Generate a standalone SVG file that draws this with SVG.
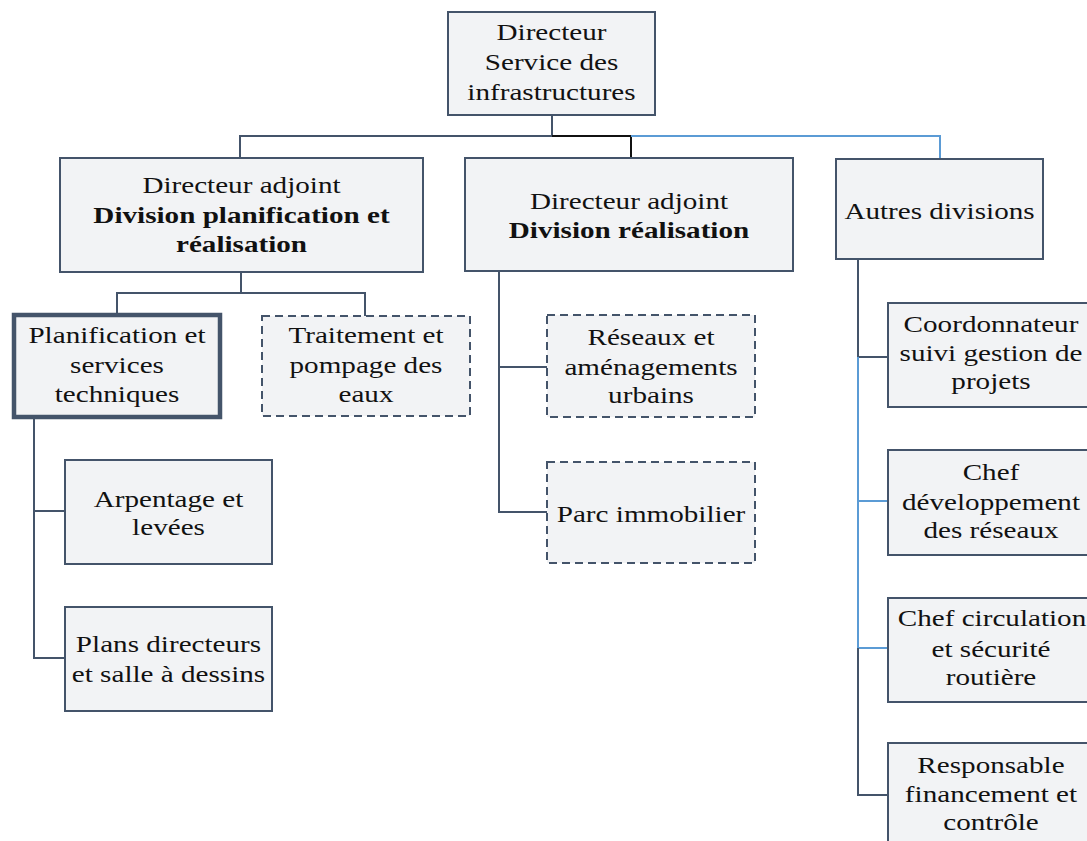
<svg xmlns="http://www.w3.org/2000/svg" width="1087" height="841" viewBox="0 0 1087 841">
<style>
.box{fill:#f2f3f5;stroke:#44546a;stroke-width:2}
.thick{stroke-width:4.5}
.dash{stroke-dasharray:8 5}
.c{fill:none;stroke:#44546a;stroke-width:2}
.k{fill:none;stroke:#111111;stroke-width:2}
.b{fill:none;stroke:#5b9bd5;stroke-width:2}
text{font-family:"Liberation Serif","Times New Roman",serif;font-size:23.5px;fill:#111;text-anchor:middle}
.bd{font-weight:bold}
</style>
<rect width="1087" height="841" fill="#ffffff"/>
<g id="connectors">
<path class="c" d="M552 115V136H240V158"/>
<path class="k" d="M552 136H631V158"/>
<path class="b" d="M631 136H940V158"/>
<path class="c" d="M241 272V293H117V314"/>
<path class="c" d="M241 293H365V316"/>
<path class="c" d="M34 419V658H65"/>
<path class="c" d="M34 511H65"/>
<path class="c" d="M499 271V512H547"/>
<path class="c" d="M499 367H547"/>
<path class="c" d="M858 259V357H888"/>
<path class="b" d="M858 357V648H888"/>
<path class="b" d="M858 501H888"/>
<path class="c" d="M858 648V795H888"/>
</g>
<g id="n_top">
<rect class="box" x="448" y="12" width="207" height="103"/>
<text transform="translate(551.5,40) scale(1.24,1)">Directeur</text>
<text transform="translate(551.5,70) scale(1.24,1)">Service des</text>
<text transform="translate(551.5,100) scale(1.24,1)">infrastructures</text>
</g>
<g id="n_dpr">
<rect class="box" x="60" y="158" width="363" height="114"/>
<text transform="translate(241.5,193) scale(1.24,1)">Directeur adjoint</text>
<text class="bd" transform="translate(241.5,223) scale(1.24,1)">Division planification et</text>
<text class="bd" transform="translate(241.5,252) scale(1.24,1)">réalisation</text>
</g>
<g id="n_dr">
<rect class="box" x="465" y="158" width="328" height="113"/>
<text transform="translate(629,209) scale(1.24,1)">Directeur adjoint</text>
<text class="bd" transform="translate(629,238) scale(1.24,1)">Division réalisation</text>
</g>
<g id="n_autres">
<rect class="box" x="836" y="159" width="207" height="100"/>
<text transform="translate(939.5,219) scale(1.24,1)">Autres divisions</text>
</g>
<g id="n_plan">
<rect class="box thick" x="14" y="315" width="206" height="102"/>
<text transform="translate(117,343) scale(1.24,1)">Planification et</text>
<text transform="translate(117,373) scale(1.24,1)">services</text>
<text transform="translate(117,402) scale(1.24,1)">techniques</text>
</g>
<g id="n_trait">
<rect class="box dash" x="262" y="316" width="208" height="100"/>
<text transform="translate(366,343) scale(1.24,1)">Traitement et</text>
<text transform="translate(366,373) scale(1.24,1)">pompage des</text>
<text transform="translate(366,402) scale(1.24,1)">eaux</text>
</g>
<g id="n_arp">
<rect class="box" x="65" y="460" width="207" height="104"/>
<text transform="translate(168.5,507) scale(1.24,1)">Arpentage et</text>
<text transform="translate(168.5,535) scale(1.24,1)">levées</text>
</g>
<g id="n_plans">
<rect class="box" x="65" y="607" width="207" height="104"/>
<text transform="translate(168.5,652) scale(1.24,1)">Plans directeurs</text>
<text transform="translate(168.5,682) scale(1.24,1)">et salle à dessins</text>
</g>
<g id="n_res">
<rect class="box dash" x="547" y="315" width="208" height="102"/>
<text transform="translate(651,345) scale(1.24,1)">Réseaux et</text>
<text transform="translate(651,375) scale(1.24,1)">aménagements</text>
<text transform="translate(651,403) scale(1.24,1)">urbains</text>
</g>
<g id="n_parc">
<rect class="box dash" x="547" y="462" width="208" height="101"/>
<text transform="translate(651,522) scale(1.24,1)">Parc immobilier</text>
</g>
<g id="n_coord">
<rect class="box" x="888" y="303" width="206" height="104"/>
<text transform="translate(991,332) scale(1.24,1)">Coordonnateur</text>
<text transform="translate(991,361) scale(1.24,1)">suivi gestion de</text>
<text transform="translate(991,389) scale(1.24,1)">projets</text>
</g>
<g id="n_chefdev">
<rect class="box" x="888" y="450" width="206" height="105"/>
<text transform="translate(991,480) scale(1.24,1)">Chef</text>
<text transform="translate(991,510) scale(1.24,1)">développement</text>
<text transform="translate(991,538) scale(1.24,1)">des réseaux</text>
</g>
<g id="n_chefcirc">
<rect class="box" x="888" y="598" width="206" height="104"/>
<text transform="translate(992,626) scale(1.24,1)">Chef circulation</text>
<text transform="translate(991,657) scale(1.24,1)">et sécurité</text>
<text transform="translate(991,685) scale(1.24,1)">routière</text>
</g>
<g id="n_resp">
<rect class="box" x="888" y="743" width="206" height="110"/>
<text transform="translate(991,773) scale(1.24,1)">Responsable</text>
<text transform="translate(991,802) scale(1.24,1)">financement et</text>
<text transform="translate(991,830) scale(1.24,1)">contrôle</text>
</g>
</svg>
